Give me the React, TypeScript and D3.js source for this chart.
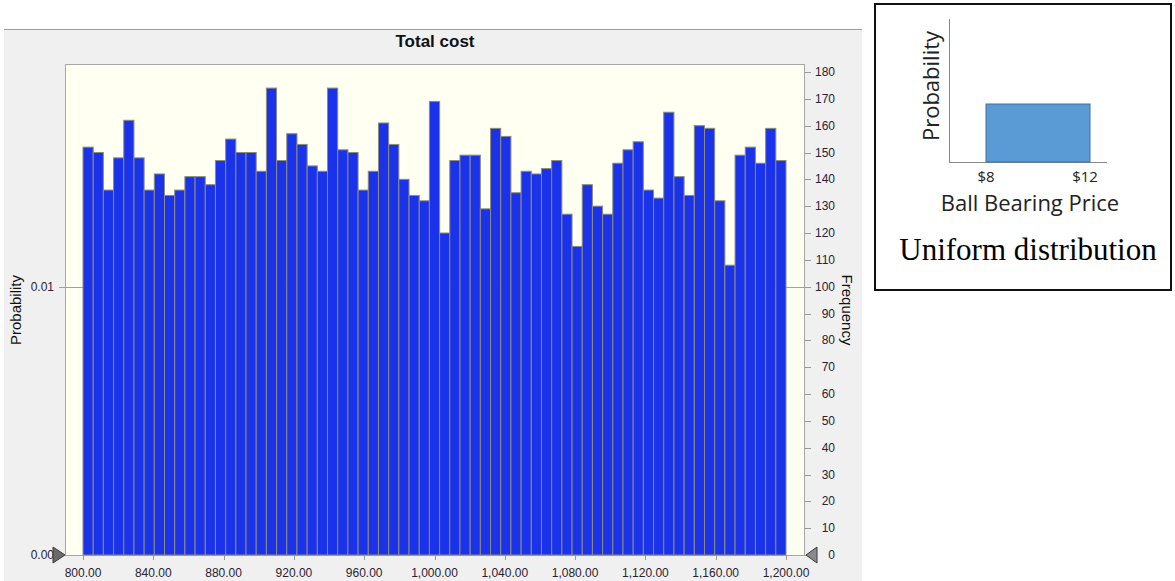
import React, { useEffect, useRef } from 'react';
import * as d3 from 'd3';

// frequency of each of the 69 bins between 800 and 1,200 (10,000 trials)
const binCounts = [
  152, 150, 136, 148, 162, 148, 136, 142, 134, 136,
  141, 141, 138, 147, 155, 150, 150, 143, 174, 147,
  157, 153, 145, 143, 174, 151, 150, 136, 143, 161,
  153, 140, 134, 132, 169, 120, 147, 149, 149, 129,
  159, 156, 135, 143, 142, 144, 147, 127, 115, 138,
  130, 127, 146, 151, 154, 136, 133, 165, 141, 134,
  160, 159, 132, 108, 149, 152, 146, 159, 147,
];
const trials = 10000;
const xTicks = [800, 840, 880, 920, 960, 1000, 1040, 1080, 1120, 1160, 1200];
const freqTicks = d3.range(0, 190, 10);
const probTicks = [0, 0.01];
const insetTicks = ['$8', '$12'];

function App() {
  const svgRef = useRef(null);

  useEffect(() => {
    const svg = d3.select(svgRef.current);
    svg.selectAll('*').remove();

    const plot = { left: 65, top: 64, right: 804, bottom: 555 };
    const x = d3.scaleLinear().domain([800, 1200]).range([83, 786]);
    const yF = d3.scaleLinear().domain([0, 180]).range([plot.bottom, 72]);
    const yP = d3.scaleLinear().domain([0, 180 / trials]).range([plot.bottom, 72]);
    const binW = 400 / binCounts.length;
    const font = 'Liberation Sans, Arial, sans-serif';

    // panel
    svg.append('rect').attr('x', 4).attr('y', 29).attr('width', 858).attr('height', 560).attr('fill', '#f0f0f0');
    svg.append('line').attr('x1', 4).attr('x2', 862).attr('y1', 29.5).attr('y2', 29.5).attr('stroke', '#a0a0a0');

    svg.append('text')
      .attr('x', 435).attr('y', 47)
      .attr('text-anchor', 'middle')
      .attr('font-family', font)
      .attr('font-weight', 'bold').attr('font-size', 17)
      .attr('fill', '#111')
      .text('Total cost');

    svg.append('rect')
      .attr('x', plot.left + 0.5).attr('y', plot.top + 0.5)
      .attr('width', plot.right - plot.left).attr('height', plot.bottom - plot.top)
      .attr('fill', '#fffff2').attr('stroke', '#a8a8a8');

    // gridline at 0.01
    svg.append('line')
      .attr('x1', 59).attr('x2', 811)
      .attr('y1', Math.round(yP(0.01)) + 0.5).attr('y2', Math.round(yP(0.01)) + 0.5)
      .attr('stroke', '#a0a0a0');

    svg.append('g')
      .selectAll('rect')
      .data(binCounts)
      .enter()
      .append('rect')
      .attr('x', (d, i) => x(800 + i * binW))
      .attr('width', (d, i) => x(800 + (i + 1) * binW) - x(800 + i * binW))
      .attr('y', (d) => yF(d))
      .attr('height', (d) => plot.bottom - yF(d))
      .attr('fill', '#1a33ea')
      .attr('stroke', '#8c8c7c')
      .attr('stroke-width', 1);

    // x axis
    const xa = svg.append('g');
    xTicks.forEach((t) => {
      xa.append('line')
        .attr('x1', Math.round(x(t)) + 0.5).attr('x2', Math.round(x(t)) + 0.5)
        .attr('y1', plot.bottom).attr('y2', plot.bottom + 5)
        .attr('stroke', '#999');
      xa.append('text')
        .attr('x', x(t)).attr('y', 577)
        .attr('text-anchor', 'middle')
        .attr('font-family', font).attr('font-size', 12).attr('fill', '#2a2233')
        .text(d3.format(',.2f')(t));
    });

    // right frequency axis
    const ra = svg.append('g');
    freqTicks.forEach((t) => {
      ra.append('line')
        .attr('x1', 805).attr('x2', 811)
        .attr('y1', Math.round(yF(t)) + 0.5).attr('y2', Math.round(yF(t)) + 0.5)
        .attr('stroke', '#999');
      ra.append('text')
        .attr('x', 835).attr('y', yF(t) + 4)
        .attr('text-anchor', 'end')
        .attr('font-family', font).attr('font-size', 12).attr('fill', '#2a2233')
        .text(t);
    });
    svg.append('text')
      .attr('transform', 'translate(842,310) rotate(90)')
      .attr('text-anchor', 'middle')
      .attr('font-family', font).attr('font-size', 15).attr('fill', '#111')
      .text('Frequency');

    // left probability axis
    probTicks.forEach((t) => {
      svg.append('text')
        .attr('x', 54).attr('y', yP(t) + 4)
        .attr('text-anchor', 'end')
        .attr('font-family', font).attr('font-size', 12).attr('fill', '#2a2233')
        .text(d3.format('.2f')(t));
    });
    svg.append('text')
      .attr('transform', 'translate(21,310) rotate(-90)')
      .attr('text-anchor', 'middle')
      .attr('font-family', font).attr('font-size', 15).attr('fill', '#111')
      .text('Probability');

    // range sliders
    svg.append('path')
      .attr('d', `M53,${plot.bottom - 8} L65,${plot.bottom} L53,${plot.bottom + 8} Z`)
      .attr('fill', '#6b6b6b').attr('stroke', '#3a3a3a');
    svg.append('path')
      .attr('d', `M817,${plot.bottom - 8} L806,${plot.bottom} L817,${plot.bottom + 8} Z`)
      .attr('fill', '#8a8a8a').attr('stroke', '#3a3a3a');

    // inset: uniform distribution sketch
    const inset = svg.append('g');
    inset.append('rect')
      .attr('x', 875).attr('y', 4).attr('width', 296).attr('height', 286)
      .attr('fill', '#fff').attr('stroke', '#111').attr('stroke-width', 2);
    const ix = d3.scalePoint().domain(insetTicks).range([986, 1090]);
    inset.append('line').attr('x1', 949.5).attr('x2', 949.5).attr('y1', 19).attr('y2', 162).attr('stroke', '#888');
    inset.append('line').attr('x1', 949).attr('x2', 1107).attr('y1', 162.5).attr('y2', 162.5).attr('stroke', '#888');
    inset.append('rect')
      .attr('x', ix('$8')).attr('y', 104)
      .attr('width', ix('$12') - ix('$8')).attr('height', 58)
      .attr('fill', '#5b9bd5').attr('stroke', '#41719c');
    const calibri = 'Open Sans, Noto Sans, sans-serif';
    insetTicks.forEach((t) => {
      inset.append('text')
        .attr('x', ix(t) + (t === '$12' ? -5 : 0)).attr('y', 182)
        .attr('text-anchor', 'middle')
        .attr('font-family', calibri).attr('font-size', 15).attr('fill', '#222')
        .text(t);
    });
    inset.append('text')
      .attr('x', 1030).attr('y', 211)
      .attr('text-anchor', 'middle')
      .attr('font-family', calibri).attr('font-size', 22).attr('fill', '#222')
      .text('Ball Bearing Price');
    inset.append('text')
      .attr('transform', 'translate(939,86) rotate(-90)')
      .attr('text-anchor', 'middle')
      .attr('font-family', calibri).attr('font-size', 22).attr('fill', '#222')
      .text('Probability');
    inset.append('text')
      .attr('x', 1028).attr('y', 260)
      .attr('text-anchor', 'middle')
      .attr('font-family', 'Liberation Serif, Times New Roman, serif')
      .attr('font-size', 31).attr('fill', '#000')
      .text('Uniform distribution');
  }, []);

  return (
    <svg
      ref={svgRef}
      width={1175}
      height={581}
      style={{ position: 'absolute', left: 0, top: 0, background: '#fff' }}
    />
  );
}

export default App;
